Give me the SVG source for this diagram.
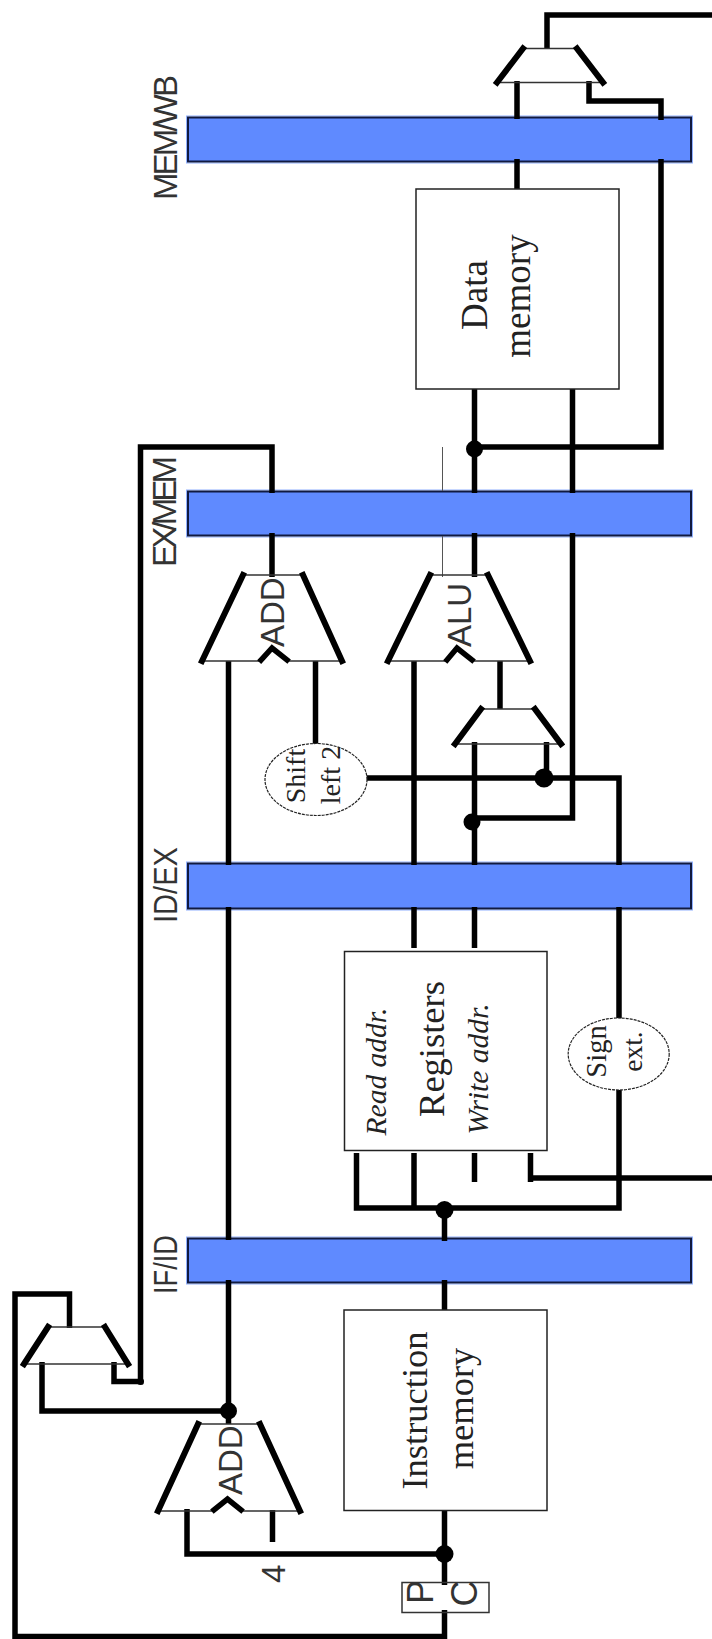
<svg xmlns="http://www.w3.org/2000/svg" width="712" height="1639" viewBox="0 0 712 1639">
<defs><style>
.bar{fill:#5f8aff;stroke:#111a40;stroke-width:2}
.barglow{fill:none;stroke:#8fb0ff;stroke-width:1}
.w{fill:none;stroke:#000;stroke-width:5.5;stroke-linejoin:miter}
.thin{fill:none;stroke:#555;stroke-width:1}
.dot{fill:#000}
.box{fill:#fff;stroke:#222;stroke-width:1.5}
.ell{fill:#fff;stroke:#222;stroke-width:1.2;stroke-dasharray:3 1}
.edge{fill:none;stroke:#333;stroke-width:1.5}
.side{fill:none;stroke:#000;stroke-width:6;stroke-linecap:square}
.s{font-family:"Liberation Sans",Arial,sans-serif;font-size:33px;fill:#333}
.t{font-family:"Liberation Serif","Times New Roman",serif;fill:#222}
.i{font-style:italic;font-size:29.5px}
</style></defs>
<g id="pipeline-bars">
<g id="bar-memwb"><rect class="barglow" x="186.5" y="116" width="506" height="47"/><rect class="bar" x="188" y="117.5" width="503" height="44"/></g>
<g id="bar-exmem"><rect class="barglow" x="186.5" y="490" width="506" height="47"/><rect class="bar" x="188" y="491.5" width="503" height="44"/></g>
<g id="bar-idex"><rect class="barglow" x="186.5" y="862" width="506" height="48"/><rect class="bar" x="188" y="863.5" width="503" height="45"/></g>
<g id="bar-ifid"><rect class="barglow" x="186.5" y="1237" width="506" height="47"/><rect class="bar" x="188" y="1238.5" width="503" height="44"/></g>
</g>
<g id="pipeline-labels">
<text class="s" transform="translate(176.5,200) rotate(-90)" textLength="125" lengthAdjust="spacing">MEM/WB</text>
<text class="s" transform="translate(175.5,567) rotate(-90)" textLength="111" lengthAdjust="spacing">EX/MEM</text>
<text class="s" transform="translate(176.5,923) rotate(-90)" textLength="76" lengthAdjust="spacingAndGlyphs">ID/EX</text>
<text class="s" transform="translate(176.5,1294) rotate(-90)" textLength="59" lengthAdjust="spacingAndGlyphs">IF/ID</text>
</g>
<g id="connectors">
<path class="w" d="M712 15H547V48"/>
<path class="w" d="M517 81V119M517 159V191"/>
<path class="w" d="M589 81V101H661V120M661 159V447H474.5"/>
<path class="w" d="M474.5 389V493M474.5 533V577"/>
<path class="w" d="M572.5 389V493M572.5 533V818H472"/>
<path class="thin" d="M442.5 447V491M442.5 536V577"/>
<path class="w" d="M272 493V447H140.5V1381.5H114V1362"/>
<path class="w" d="M272 533V577"/>
<path class="w" d="M228.5 661V865M228.5 907V1240M228.5 1280V1424"/>
<path class="w" d="M414 661V865M414 907V948"/>
<path class="w" d="M500 661V709"/>
<path class="w" d="M474.5 742V865M474.5 907V948"/>
<path class="w" d="M546.5 742V778"/>
<path class="w" d="M315.5 661V745"/>
<path class="w" d="M366 778H619V865M619 907V1020M619 1088V1208H356.5V1153"/>
<path class="w" d="M414 1153V1208"/>
<path class="w" d="M474.5 1153V1182"/>
<path class="w" d="M530.5 1153V1182M530.5 1178H712"/>
<path class="w" d="M444.5 1208V1241M444.5 1280V1312M444.5 1508V1585M444.5 1610V1636.5H15V1294H69.5V1328"/>
<path class="w" d="M228.5 1411H42V1362"/>
<path class="w" d="M444.5 1554H187V1509"/>
<path class="w" d="M272.5 1510V1542"/>
<circle class="dot" cx="474.5" cy="449" r="8.5"/>
<circle class="dot" cx="472" cy="822" r="8.5"/>
<circle class="dot" cx="544" cy="778" r="9.5"/>
<circle class="dot" cx="444.5" cy="1210" r="9"/>
<circle class="dot" cx="228.5" cy="1411" r="8.5"/>
<circle class="dot" cx="444.5" cy="1554" r="9"/>
<circle class="dot" cx="140.5" cy="1381.5" r="3.5"/>
</g>
<g id="mux-wb"><path class="edge" d="M523 48.5H577M496 82.5H604"/><path class="side" d="M523 48.5L497 82.5M577 48.5L603 82.5"/></g>
<g id="data-memory"><rect class="box" x="416" y="189" width="203" height="200"/>
<text class="t" font-size="37" text-anchor="middle" transform="translate(486.5,295) rotate(-90)">Data</text>
<text class="t" font-size="37" text-anchor="middle" transform="translate(529.5,296) rotate(-90)">memory</text></g>
<g id="add-branch"><path class="edge" d="M201 661H260M288 661H343M243 575H303"/><path class="side" d="M243 575L202 661M303 575L342 661"/><path class="w" stroke-linecap="square" d="M261 660L272 648L287 660"/>
<text class="s" transform="translate(284,647) rotate(-90)">ADD</text></g>
<g id="alu"><path class="edge" d="M387 661H446M473 661H531M430 575H488"/><path class="side" d="M430 575L388 661M488 575L530 661"/><path class="w" stroke-linecap="square" d="M447 660L457 648L472 660"/>
<text class="s" transform="translate(470.5,647) rotate(-90)">ALU</text></g>
<g id="mux-alu"><path class="edge" d="M481 709H535M454 744H562"/><path class="side" d="M481 709L455 744M535 709L561 744"/></g>
<g id="shift-left-2"><ellipse class="ell" cx="316" cy="779.5" rx="51" ry="36"/>
<text class="t" font-size="28" text-anchor="middle" transform="translate(305,776) rotate(-90)">Shift</text>
<text class="t" font-size="28" text-anchor="middle" transform="translate(340,775) rotate(-90)">left 2</text></g>
<g id="registers"><rect class="box" x="344.5" y="951.5" width="202.5" height="199"/>
<text class="t i" text-anchor="middle" transform="translate(386,1071.5) rotate(-90)">Read addr.</text>
<text class="t" font-size="36.5" text-anchor="middle" transform="translate(443.5,1049) rotate(-90)">Registers</text>
<text class="t i" text-anchor="middle" transform="translate(488,1069) rotate(-90)">Write addr.</text></g>
<g id="sign-ext"><ellipse class="ell" cx="618.7" cy="1054" rx="50.5" ry="36"/>
<text class="t" font-size="28.5" text-anchor="middle" transform="translate(606,1051.5) rotate(-90)">Sign</text>
<text class="t" font-size="27.5" text-anchor="middle" transform="translate(642,1051.5) rotate(-90)">ext.</text></g>
<g id="mux-pc"><path class="edge" d="M48 1327H105M22 1364H130"/><path class="side" d="M48 1327L24 1364M105 1327L128 1364"/></g>
<g id="add-pc"><path class="edge" d="M157 1511H213M242 1511H301M198 1424H260"/><path class="side" d="M198 1424L158 1511M260 1424L300 1511"/><path class="w" stroke-linecap="square" d="M214 1510L227.5 1499L241 1510"/>
<text class="s" transform="translate(242,1495) rotate(-90)">ADD</text></g>
<text id="constant-4" class="s" transform="translate(285,1583) rotate(-90)">4</text>
<g id="instruction-memory"><rect class="box" x="344" y="1310" width="203" height="200.5"/>
<text class="t" font-size="36.5" text-anchor="middle" transform="translate(427,1410.5) rotate(-90)">Instruction</text>
<text class="t" font-size="36.5" text-anchor="middle" transform="translate(473,1408.5) rotate(-90)">memory</text></g>
<g id="pc"><path class="edge" d="M444.5 1582.5H402V1612.5H444.5M444.5 1612.5H489V1582.5H444.5" fill="none"/>
<text class="s" style="font-size:36px" transform="translate(433,1604) rotate(-90)">P</text>
<text class="s" style="font-size:36px" transform="translate(477,1606.5) rotate(-90)">C</text></g>
</svg>
